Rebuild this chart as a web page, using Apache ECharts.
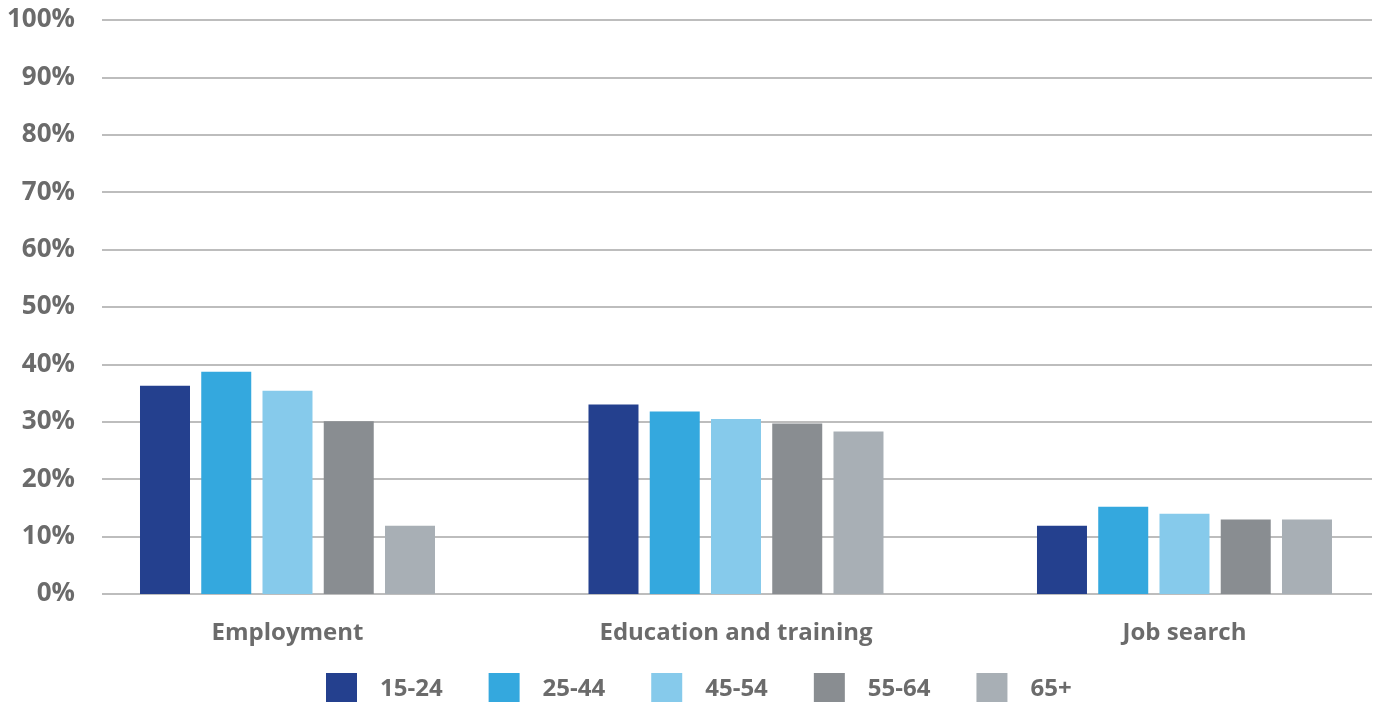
<!DOCTYPE html>
<html>
<head>
<meta charset="utf-8">
<script src="https://cdn.jsdelivr.net/npm/echarts@6/dist/echarts.min.js"></script>
<style>
  html, body { margin: 0; padding: 0; background: #ffffff; }
  #chart { width: 1379px; height: 702px; }
</style>
</head>
<body>
<div id="chart"></div>
<script>
// Share of respondents by activity and age group (%)
const categories = ['Employment', 'Education and training', 'Job search'];
const ageGroups = ['15-24', '25-44', '45-54', '55-64', '65+'];
const age15to24 = [36.3, 33.0, 11.9];
const age25to44 = [38.7, 31.8, 15.2];
const age45to54 = [35.4, 30.5, 14.0];
const age55to64 = [30.1, 29.7, 13.0];
const age65plus = [11.9, 28.3, 13.0];
const groupColors = ['#24408E', '#34A8DE', '#86CAEB', '#898D91', '#A8AFB5'];

const seriesValues = [age15to24, age25to44, age45to54, age55to64, age65plus];
const textColor = '#6B6B6B';
const fontFamily = '"Open Sans", "Noto Sans", sans-serif';

// Activity groups sit at positions 0, 1, 2 of a numeric x scale; the
// extent leaves a wider margin on the left than on the right.
const xMin = -0.4136;
const xMax = 2.4181;

const chart = echarts.init(document.getElementById('chart'), null, { renderer: 'canvas' });

chart.setOption({
  backgroundColor: '#ffffff',
  animation: false,
  legend: {
    data: ageGroups,
    top: 668,
    left: 321,
    itemWidth: 31,
    itemHeight: 32,
    itemGap: 46,
    icon: 'rect',
    textStyle: {
      color: textColor,
      fontFamily: fontFamily,
      fontWeight: 'bold',
      fontSize: 24,
      padding: [0, 0, 6, 18],
      width: 60
    }
  },
  grid: { left: 102, right: 7, top: 20, height: 574 },
  xAxis: {
    type: 'value',
    min: xMin,
    max: xMax,
    splitLine: { show: false },
    axisLine: { show: false },
    axisTick: { show: false },
    axisLabel: {
      customValues: categories.map((c, j) => j),
      formatter: (v) => categories[Math.round(v)],
      color: textColor,
      fontFamily: fontFamily,
      fontWeight: 'bold',
      fontSize: 24,
      margin: 27
    }
  },
  yAxis: {
    type: 'value',
    min: 0,
    max: 100,
    interval: 10,
    axisLine: { show: false },
    axisTick: { show: false },
    axisLabel: {
      formatter: '{value}%',
      color: textColor,
      fontFamily: fontFamily,
      fontWeight: 'bold',
      fontSize: 26,
      margin: 27
    },
    splitLine: { lineStyle: { color: '#BDBDBD', width: 2 } }
  },
  series: ageGroups.map((name, i) => ({
    name: name,
    type: 'bar',
    data: seriesValues[i].map((v, j) => [j, v]),
    barWidth: 50,
    barGap: '22.5%',
    itemStyle: { color: groupColors[i] }
  }))
});
</script>
</body>
</html>
